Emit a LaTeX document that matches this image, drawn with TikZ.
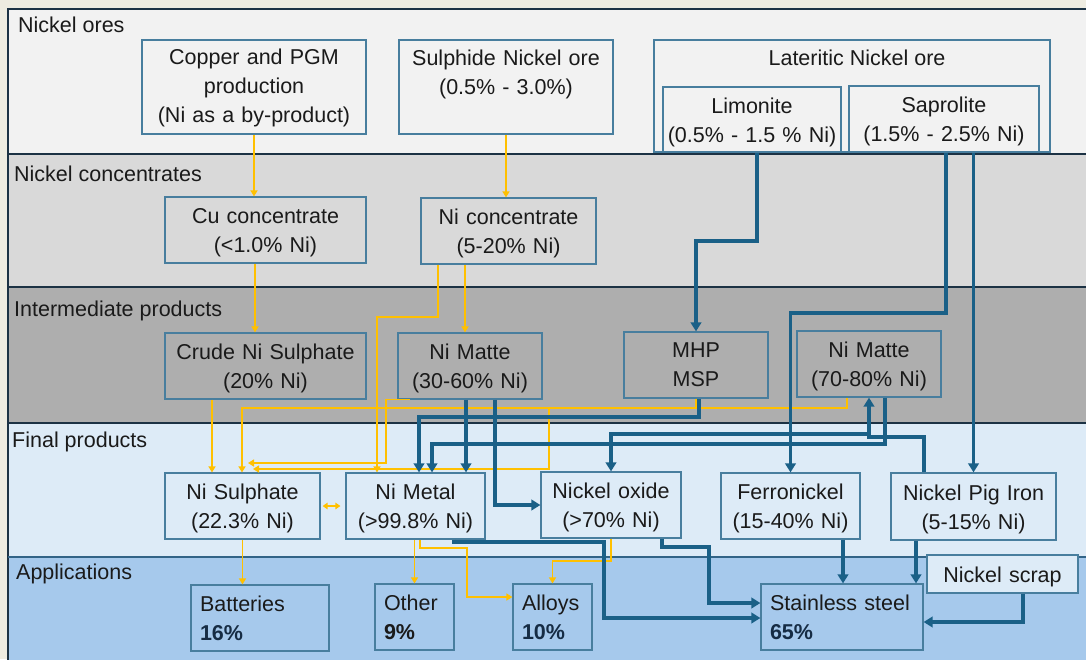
\documentclass[tikz,border=0pt]{standalone}
\usepackage{fontspec}
\setmainfont{Liberation Sans}
\usetikzlibrary{arrows.meta,calc}
\definecolor{bgc}{RGB}{238,236,225}
\definecolor{bandA}{RGB}{242,242,242}
\definecolor{bandB}{RGB}{217,217,217}
\definecolor{bandC}{RGB}{174,174,174}
\definecolor{bandD}{RGB}{221,235,247}
\definecolor{bandE}{RGB}{166,201,236}
\definecolor{frm}{RGB}{28,50,68}
\definecolor{frmb}{RGB}{50,100,135}
\definecolor{bxl}{RGB}{72,126,158}
\definecolor{blu}{RGB}{26,96,135}
\definecolor{yel}{RGB}{255,192,0}
\definecolor{txt}{RGB}{26,26,26}
\definecolor{pct}{RGB}{22,44,68}
\begin{document}
\begin{tikzpicture}[x=1pt,y=-1pt,
  every node/.style={font=\fontsize{21.5}{29}\selectfont, text=txt},
  box/.style={draw=bxl, line width=1.2pt, inner xsep=0pt, inner ysep=0pt, align=center, anchor=center},
  lowtxt/.style={text height=20.5pt},
  lbox/.style={draw=bxl, line width=1.2pt, inner xsep=9pt, inner ysep=0pt, align=left, anchor=center},
  bandlbl/.style={anchor=base west, inner sep=0pt},
  ya/.style={draw=yel, line width=1.5pt, -{Triangle[length=6pt,width=7pt]}},
  yl/.style={draw=yel, line width=1.5pt},
  ba/.style={draw=blu, line width=3.2pt, -{Triangle[length=9pt,width=10.5pt]}},
]
\useasboundingbox (0,0) rectangle (1086,659);
\clip (0,0) rectangle (1086,659);
% background and bands
\fill[bgc] (0,0) rectangle (1086,659);
\fill[bandA] (8,9) rectangle (1090,154);
\fill[bandB] (8,154) rectangle (1090,287);
\fill[bandC] (8,287) rectangle (1090,423);
\fill[bandD] (8,423) rectangle (1090,557);
\fill[bandE] (8,557) rectangle (1090,665);
\draw[frm, line width=1.8pt] (1090,9) -- (8,9) -- (8,665);
\draw[frm, line width=1.8pt] (8,154) -- (1090,154);
\draw[frm, line width=1.8pt] (8,287) -- (1090,287);
\draw[frm, line width=1.8pt] (8,423) -- (1090,423);
\draw[frmb, line width=1.5pt] (8,557) -- (1090,557);
% band labels
\node[bandlbl] (lb1) at (18,32.5) {Nickel ores};
\node[bandlbl] (lb2) at (14,181.5) {Nickel concentrates};
\node[bandlbl] (lb3) at (14,316) {Intermediate products};
\node[bandlbl] (lb4) at (12,447.5) {Final products};
\node[bandlbl] (lb5) at (16,579.5) {Applications};
% ores
\node[box, fill=bandA, text width=224pt, minimum height=94pt, text height=18pt] (cpgm) at (254,87) {Copper and PGM\\production\\(Ni as a by-product)};
\node[box, fill=bandA, text width=214pt, minimum height=94pt] (sulph) at (506,87) {Sulphide Nickel ore\\(0.5\% - 3.0\%)\\\mbox{}};
\node[box, fill=bandA, minimum width=396pt, minimum height=112pt] (lat) at (852,96) {};
\node[inner sep=0pt] (latt) at (857,58) {Lateritic Nickel ore};
\node[box, lowtxt, fill=bandA, text width=178pt, minimum height=65pt] (limo) at (752,119.5) {Limonite\\(0.5\% - 1.5 \% Ni)};
\node[box, lowtxt, fill=bandA, text width=190pt, minimum height=66pt] (sapro) at (944,119) {Saprolite\\(1.5\% - 2.5\% Ni)};
% concentrates
\node[box, lowtxt, fill=bandB, text width=201pt, minimum height=66pt] (cucon) at (265.5,230) {Cu concentrate\\(<1.0\% Ni)};
\node[box, lowtxt, fill=bandB, text width=175pt, minimum height=66pt] (nicon) at (508.5,231) {Ni concentrate\\(5-20\% Ni)};
% intermediate
\node[box, lowtxt, fill=bandC, text width=201pt, minimum height=66pt] (crude) at (265.5,366) {Crude Ni Sulphate\\(20\% Ni)};
\node[box, lowtxt, fill=bandC, text width=144pt, minimum height=66pt] (matteA) at (470,366) {Ni Matte\\(30-60\% Ni)};
\node[box, fill=bandC, text width=144pt, minimum height=66pt] (mhp) at (696,365) {MHP\\MSP};
\node[box, lowtxt, fill=bandC, text width=144pt, minimum height=66pt] (matteB) at (869,364) {Ni Matte\\(70-80\% Ni)};
% final
\node[box, lowtxt, fill=bandD, text width=155pt, minimum height=66pt] (nisul) at (242.5,506) {Ni Sulphate\\(22.3\% Ni)};
\node[box, lowtxt, fill=bandD, text width=139pt, minimum height=66pt] (nimet) at (415.5,506) {Ni Metal\\(>99.8\% Ni)};
\node[box, lowtxt, fill=bandD, text width=140pt, minimum height=66pt] (nox) at (611,505) {Nickel oxide\\(>70\% Ni)};
\node[box, lowtxt, fill=bandD, text width=139pt, minimum height=66pt] (ferro) at (790.5,506) {Ferronickel\\(15-40\% Ni)};
\node[box, lowtxt, fill=bandD, text width=165pt, minimum height=67pt] (npi) at (973.5,506.5) {Nickel Pig Iron\\(5-15\% Ni)};
% applications
\node[lbox, fill=bandE, text width=120pt, minimum height=66pt] (batt) at (260,618) {Batteries\\\textbf{\color{pct}16\%}};
\node[lbox, fill=bandE, text width=61pt, minimum height=66pt] (other) at (414.5,617) {Other\\\textbf{9\%}};
\node[lbox, fill=bandE, text width=61pt, minimum height=66pt] (alloys) at (552.5,617) {Alloys\\\textbf{\color{pct}10\%}};
\node[lbox, fill=bandE, text width=144pt, minimum height=66pt] (steel) at (842,617) {Stainless steel\\\textbf{\color{pct}65\%}};
\node[box, lowtxt, fill=bandD, text width=151pt, minimum height=38pt] (scrap) at (1002.5,574) {Nickel scrap};
% free ends
\coordinate (e1) at (248,463);
\coordinate (e2) at (253,469);
\coordinate (j1) at (549,408);
% yellow connectors
\draw[ya] (cpgm.south) -- (cpgm.south |- cucon.north);
\draw[ya] (sulph.south) -- (sulph.south |- nicon.north);
\draw[ya] (255,0 |- cucon.south) -- (255,0 |- crude.north);
\draw[ya] (465,0 |- nicon.south) -- (465,0 |- matteA.north);
\draw[ya] (438,0 |- nicon.south) |- (377,317) -- (377,0 |- nimet.north);
\draw[ya] (212,0 |- crude.south) -- (212,0 |- nisul.north);
\draw[ya] (410,0 |- matteA.south) -| (386,463) -- (e1);
\draw[ya] (847,0 |- matteB.south) |- (242,408) -- (242,0 |- nisul.north);
\draw[yl] (696,0 |- mhp.south) -- (696,408);
\draw[ya] (j1) |- (e2);
\draw[yel, line width=1.5pt, {Triangle[length=5pt,width=6.5pt]}-{Triangle[length=5pt,width=6.5pt]}] ([xshift=2pt]nisul.east) -- ([xshift=-5pt]nimet.west);
\draw[ya] (nisul.south) -- (nisul.south |- batt.north);
\draw[ya] (other.north |- nimet.south) -- (other.north);
\draw[ya] (420,0 |- nimet.south) |- (467,548) |- (alloys.west |- 0,597);
\draw[ya] (nox.south) |- (alloys.north |- 0,561) -- (alloys.north);
% blue connectors
\draw[ba] (757,0 |- limo.south) |- (mhp.north |- 0,241) -- (mhp.north);
\draw[ba] (946,0 |- sapro.south) |- (ferro.north |- 0,313) -- (ferro.north);
\draw[ba] (npi.north |- sapro.south) -- (npi.north);
\draw[ba] (924,0 |- npi.north) |- (matteB.south |- 0,437) -- (matteB.south);
\draw[ba] (matteB.south |- 0,434) -| (nox.north);
\draw[ba] (885,0 |- matteB.south) |- (432,444) -- (432,0 |- nimet.north);
\draw[ba] (699,0 |- mhp.south) |- (419,417) -- (419,0 |- nimet.north);
\draw[ba] (466,0 |- matteA.south) -- (466,0 |- nimet.north);
\draw[ba] (495,0 |- matteA.south) |- (nox.west);
\draw[ba] (454,0 |- nimet.south) |- (604,542) |- (steel.west |- 0,618);
\draw[ba] (662,0 |- nox.south) |- (709,547) |- (steel.west |- 0,603);
\draw[ba] (843,0 |- ferro.south) -- (843,0 |- steel.north);
\draw[ba] (916,0 |- npi.south) -- (916,0 |- steel.north);
\draw[ba] (1023,0 |- scrap.south) |- (steel.east |- 0,622);
\end{tikzpicture}
\end{document}
